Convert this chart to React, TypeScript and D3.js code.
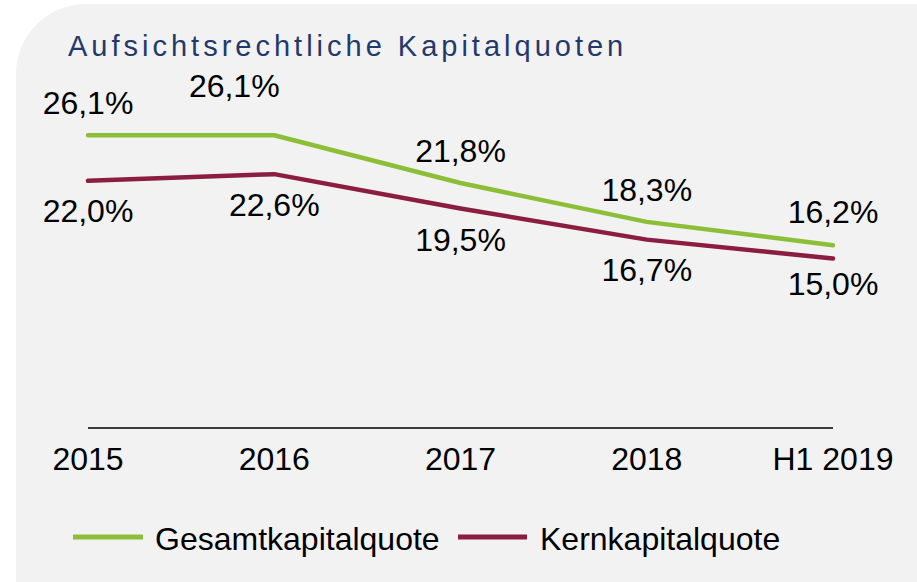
import React from "react";
import * as d3 from "d3";

const categories = ["2015", "2016", "2017", "2018", "H1 2019"];
const gesamt = [26.1, 26.1, 21.8, 18.3, 16.2];
const kern = [22.0, 22.6, 19.5, 16.7, 15.0];
const gesamtLabels = ["26,1%", "26,1%", "21,8%", "18,3%", "16,2%"];
const kernLabels = ["22,0%", "22,6%", "19,5%", "16,7%", "15,0%"];
const seriesNames = ["Gesamtkapitalquote", "Kernkapitalquote"];
const title = "Aufsichtsrechtliche Kapitalquoten";

const W = 917;
const H = 582;
const GREEN = "#8cbf37";
const RED = "#8b1e40";
const FONT = "'Liberation Sans', Arial, sans-serif";
const FS = 32;

// label nudges (layout only)
const gesamtNudge = [[0, -21], [-40, -38], [0, -21], [0, -21], [0, -22]];
const kernNudge = [[0, 41], [0, 42], [0, 42], [0, 41], [0, 36]];

export default function App() {
  const x = d3.scalePoint<string>().domain(categories).range([88, 833]);
  const y = d3.scaleLinear().domain([0, 30]).range([425, 92]);
  const line = d3
    .line<number>()
    .x((_, i) => x(categories[i]) as number)
    .y((d) => y(d));

  const r = 70;
  const bg = `M16,${4 + r} A${r},${r} 0 0 1 ${16 + r},4 L${W},4 L${W},${H} L16,${H} Z`;

  return (
    <svg
      width={W}
      height={H}
      style={{ position: "absolute", left: 0, top: 0, background: "#fff" }}
      fontFamily={FONT}
    >
      <path d={bg} fill="#f2f2f2" />
      <text x={68} y={56} fontSize={29} letterSpacing={4} fill="#24396b">
        {title}
      </text>
      <line x1={88} x2={833} y1={428} y2={428} stroke="#000" strokeWidth={1.6} />
      {categories.map((c) => (
        <text key={c} x={x(c)} y={470} fontSize={FS} textAnchor="middle" fill="#000">
          {c}
        </text>
      ))}
      <path d={line(gesamt) || ""} fill="none" stroke={GREEN} strokeWidth={4.5} strokeLinejoin="round" strokeLinecap="round" />
      <path d={line(kern) || ""} fill="none" stroke={RED} strokeWidth={4.5} strokeLinejoin="round" strokeLinecap="round" />
      {gesamt.map((v, i) => (
        <text
          key={"g" + i}
          x={(x(categories[i]) as number) + gesamtNudge[i][0]}
          y={y(v) + gesamtNudge[i][1]}
          fontSize={FS}
          textAnchor="middle"
          fill="#000"
        >
          {gesamtLabels[i]}
        </text>
      ))}
      {kern.map((v, i) => (
        <text
          key={"k" + i}
          x={(x(categories[i]) as number) + kernNudge[i][0]}
          y={y(v) + kernNudge[i][1]}
          fontSize={FS}
          textAnchor="middle"
          fill="#000"
        >
          {kernLabels[i]}
        </text>
      ))}
      <line x1={73} x2={143} y1={537} y2={537} stroke={GREEN} strokeWidth={5} />
      <text x={155} y={550} fontSize={FS} fill="#000">{seriesNames[0]}</text>
      <line x1={458} x2={527} y1={537} y2={537} stroke={RED} strokeWidth={5} />
      <text x={540} y={550} fontSize={FS} fill="#000">{seriesNames[1]}</text>
    </svg>
  );
}
